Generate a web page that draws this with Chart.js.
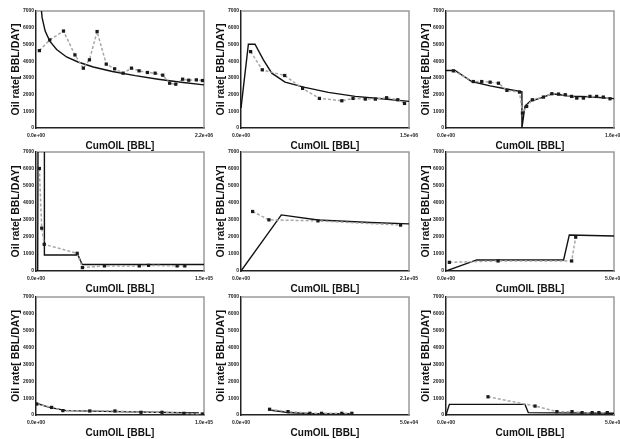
<!DOCTYPE html>
<html><head><meta charset="utf-8">
<script src="https://cdn.jsdelivr.net/npm/chart.js@4/dist/chart.umd.min.js"></script>
<style>
html,body{margin:0;padding:0;background:#fff;width:620px;height:439px;overflow:hidden;position:relative}
canvas{position:absolute}
</style></head><body>
<script>
// ---- data (x in BBL, y in BBL/DAY) ----
const xMaxes = [2.2e6, 1.5e6, 1.6e6, 1.5e5, 2.1e5, 5.0e4, 1.0e5, 5.0e4, 5.0e4];
const yTicks = [0,1000,2000,3000,4000,5000,6000,7000];

const p1ObsX = [44e3,180e3,360e3,510e3,620e3,700e3,800e3,920e3,1030e3,1140e3,1250e3,1350e3,1460e3,1560e3,1660e3,1750e3,1830e3,1920e3,2000e3,2100e3,2180e3];
const p1ObsY = [4630,5270,5800,4370,3580,4080,5770,3820,3540,3280,3580,3420,3320,3280,3160,2680,2620,2920,2860,2880,2840];
const p1FitX = [55e3,80e3,120e3,180e3,270e3,400e3,550e3,750e3,1000e3,1300e3,1600e3,1900e3,2200e3];
const p1FitY = [7800,6600,5800,5200,4700,4250,3950,3650,3380,3130,2920,2740,2580];

const p2ObsX = [86e3,190e3,390e3,550e3,700e3,900e3,1000e3,1110e3,1200e3,1300e3,1400e3,1460e3];
const p2ObsY = [4570,3480,3140,2370,1770,1630,1770,1730,1730,1810,1690,1470];
const p2FitX = [0,66e3,125e3,200e3,275e3,393e3,570e3,780e3,1020e3,1256e3,1500e3];
const p2FitY = [1190,5010,5010,4080,3280,2740,2430,2130,1890,1750,1590];

const p3ObsX = [70e3,260e3,340e3,420e3,500e3,580e3,700e3,728e3,768e3,822e3,928e3,1008e3,1072e3,1136e3,1197e3,1245e3,1309e3,1371e3,1435e3,1498e3,1562e3];
const p3ObsY = [3420,2780,2780,2740,2680,2250,2150,895,1290,1690,1850,2050,2030,1990,1890,1790,1790,1890,1890,1850,1750];
const p3FitX = [0,86e3,245e3,420e3,576e3,704e3,723e3,723e3,752e3,800e3,928e3,1008e3,1200e3,1360e3,1600e3];
const p3FitY = [3440,3440,2780,2520,2330,2190,2170,0,1300,1600,1850,2050,1900,1870,1760];

const p4ObsX = [3000,5100,7350,36750,41400,61200,92250,100500,126000,132900];
const p4ObsY = [6030,2520,1570,1040,200,300,300,330,300,300];
const p4FitX = [1500,1800,7500,7500,37500,41250,150000];
const p4FitY = [0,7800,7800,940,940,380,380];

const p5ObsX = [14500,34900,96200,199500];
const p5ObsY = [3500,3010,2950,2700];
const p5FitX = [0,50400,96200,161700,210000];
const p5FitY = [0,3300,3000,2850,2770];

const p6ObsX = [1000,15500,37400,38600];
const p6ObsY = [510,590,590,1990];
const p6FitX = [0,9150,35000,36700,50000];
const p6FitY = [0,650,650,2120,2060];

const p7ObsX = [400,9300,16000,32000,47000,62500,75000,88000,99000];
const p7ObsY = [650,450,260,240,240,160,160,100,60];
const p7FitX = [0,8000,18000,48000,97000];
const p7FitY = [700,450,260,200,120];

const p8ObsX = [8500,14000,20500,24000,30000,33000];
const p8ObsY = [340,200,100,100,100,100];
const p8FitX = [8500,14000,20000,33000];
const p8FitY = [300,150,90,80];

const p9ObsX = [12500,26500,33000,37500,40500,43500,45500,48000];
const p9ObsY = [1080,530,200,200,140,140,140,140];
const p9FitX = [0,1000,23500,24500,50000];
const p9FitY = [0,630,630,140,100];

const xTitle = 'CumOIL [BBL]';
const yTitle = 'Oil rate[ BBL/DAY]';

// ---- layout ----
const obsX = [p1ObsX,p2ObsX,p3ObsX,p4ObsX,p5ObsX,p6ObsX,p7ObsX,p8ObsX,p9ObsX];
const obsY = [p1ObsY,p2ObsY,p3ObsY,p4ObsY,p5ObsY,p6ObsY,p7ObsY,p8ObsY,p9ObsY];
const fitX = [p1FitX,p2FitX,p3FitX,p4FitX,p5FitX,p6FitX,p7FitX,p8FitX,p9FitX];
const fitY = [p1FitY,p2FitY,p3FitY,p4FitY,p5FitY,p6FitY,p7FitY,p8FitY,p9FitY];

const plotLefts = [36,241,446];
const plotW = 168;
const plotTops = [11,152,297];
const plotHs = [117,119,118];
const Y_AXIS_W = 36, X_AXIS_H = 24, PAD_TOP = 6, PAD_RIGHT = 12;

function fmtExp(v){
  if (v === 0) return '0.0e+00';
  const e = Math.floor(Math.log10(v) + 1e-9);
  const m = v / Math.pow(10, e);
  return m.toFixed(1) + 'e' + (e < 0 ? '-' : '+') + String(Math.abs(e)).padStart(2,'0');
}
function pts(xs, ys){ return xs.map((x,i)=>({x:x, y:ys[i]})); }

const framePlugin = {
  id:'frame',
  beforeDatasetsDraw(chart){
    const a = chart.chartArea, c = chart.ctx;
    c.save();
    c.strokeStyle = '#9a9a9a'; c.lineWidth = 1.5;
    c.beginPath();
    c.moveTo(a.left, a.top); c.lineTo(a.right, a.top); c.lineTo(a.right, a.bottom);
    c.stroke();
    c.restore();
  }
};

for (let i = 0; i < 9; i++) {
  const r = Math.floor(i/3), col = i % 3;
  const cv = document.createElement('canvas');
  const left = plotLefts[col] - Y_AXIS_W;
  const top = plotTops[r] - PAD_TOP;
  const w = Y_AXIS_W + plotW + PAD_RIGHT;
  const h = PAD_TOP + plotHs[r] + X_AXIS_H;
  cv.width = w; cv.height = h;
  cv.style.left = left + 'px'; cv.style.top = top + 'px';
  cv.style.width = w + 'px'; cv.style.height = h + 'px';
  document.body.appendChild(cv);
  const xmax = xMaxes[i];
  new Chart(cv, {
    type:'line',
    data:{ datasets:[
      { data: pts(obsX[i], obsY[i]), borderColor:'#a8a8a8', borderWidth:1.5, borderDash:[3,2],
        pointStyle:'rect', pointRadius:2.3, pointBackgroundColor:'#1a1a1a', pointBorderColor:'#1a1a1a', pointBorderWidth:0,
        tension:0, order:1 },
      { data: pts(fitX[i], fitY[i]), borderColor:'#111', borderWidth:1.4, pointRadius:0, tension:0, order:2 }
    ]},
    options:{
      responsive:false, animation:false, devicePixelRatio:1,
      layout:{ padding:{ top:PAD_TOP, right:PAD_RIGHT, left:0, bottom:0 } },
      plugins:{ legend:{display:false}, tooltip:{enabled:false} },
      scales:{
        x:{ type:'linear', min:0, max:xmax,
          grid:{ display:false, drawTicks:false },
          border:{ display:true, color:'#222', width:1.5 },
          afterBuildTicks(ax){ ax.ticks = [{value:0},{value:xmax}]; },
          afterFit(ax){ ax.height = X_AXIS_H; ax.paddingLeft = 0; ax.paddingRight = 0; },
          ticks:{ callback:(v)=>fmtExp(v), autoSkip:false, maxRotation:0, padding:5,
                  font:{ family:'Liberation Sans, Arial', size:5, weight:'bold' }, color:'#222' },
          title:{ display:true, text:xTitle, padding:{top:0,bottom:0},
                  font:{ family:'Liberation Sans, Arial', size:10, weight:'bold' }, color:'#111' }
        },
        y:{ type:'linear', min:0, max:7000,
          grid:{ display:false, drawTicks:false },
          border:{ display:true, color:'#222', width:1.5 },
          afterBuildTicks(ax){ ax.ticks = yTicks.map(v=>({value:v})); },
          afterFit(ax){ ax.width = Y_AXIS_W; },
          ticks:{ callback:(v)=>String(v), padding:2, autoSkip:false,
                  font:{ family:'Liberation Sans, Arial', size:5, weight:'bold' }, color:'#222' },
          title:{ display:true, text:yTitle, padding:{top:10,bottom:0},
                  font:{ family:'Liberation Sans, Arial', size:10.5, weight:'bold' }, color:'#111' }
        }
      }
    },
    plugins:[framePlugin]
  });
}
</script>
</body></html>
